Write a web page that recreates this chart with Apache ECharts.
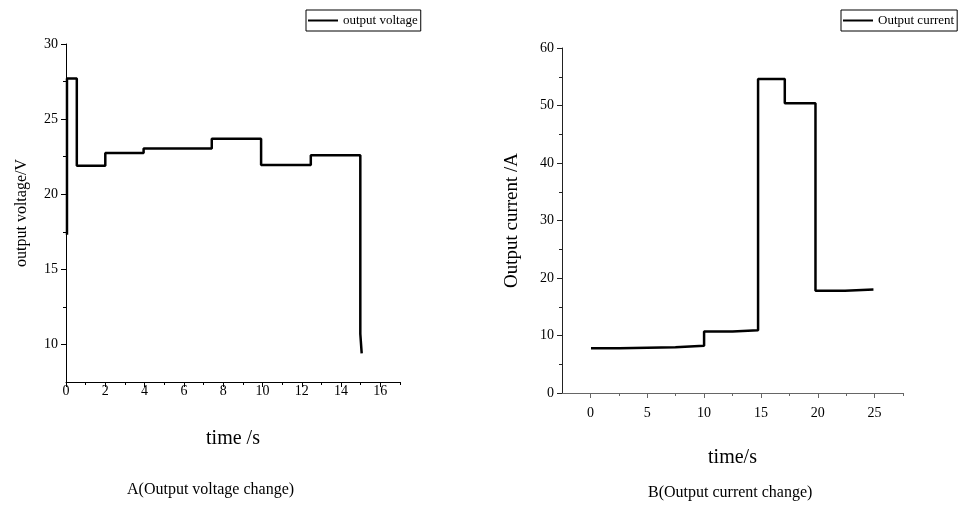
<!DOCTYPE html>
<html>
<head>
<meta charset="utf-8">
<script src="https://cdn.jsdelivr.net/npm/echarts@6/dist/echarts.min.js"></script>
<style>
html, body { margin: 0; padding: 0; background: #fff; }
#main { width: 961px; height: 515px; }
</style>
</head>
<body>
<div id="main"></div>
<script>
var dom = document.getElementById('main');
var myChart = echarts.init(dom);

// A: output voltage (step points, value held until the next time)
var voltTime = [0.05, 0.05, 0.55, 2.0, 3.95, 7.42, 9.93, 12.46, 14.98, 15.05];
var voltValue = [17.3, 27.7, 21.9, 22.75, 23.05, 23.7, 21.95, 22.6, 10.7, 9.4];

// B: output current
var currTime = [0.05, 2.55, 7.48, 10.0, 12.5, 14.75, 14.75, 17.1, 19.8, 22.4, 24.9];
var currValue = [7.8, 7.95, 8.2, 10.7, 10.9, 50.2, 54.6, 50.4, 17.8, 18.0, 18.0];

// ticks
var voltXMajor = [0, 2, 4, 6, 8, 10, 12, 14, 16];
var voltXMinor = [1, 3, 5, 7, 9, 11, 13, 15, 17];
var voltYMajor = [10, 15, 20, 25, 30];
var voltYMinor = [12.5, 17.5, 22.5, 27.5];
var currXMajor = [0, 5, 10, 15, 20, 25];
var currXMinor = [2.5, 7.5, 12.5, 17.5, 22.5, 27.5];
var currYMajor = [0, 10, 20, 30, 40, 50, 60];
var currYMinor = [5, 15, 25, 35, 45, 55];

var serif = 'Liberation Serif';

function pairs(xs, ys) {
    return xs.map(function (x, i) { return [x, ys[i]]; });
}

function mainAxis(grid, pos, min, max, major, color, extra) {
    var ax = {
        type: 'value',
        gridIndex: grid,
        position: pos,
        min: min,
        max: max,
        splitLine: { show: false },
        axisLine: { show: true, onZero: false, lineStyle: { color: color, width: 1 } },
        axisTick: { show: true, customValues: major, length: 5, lineStyle: { color: color } },
        axisLabel: { customValues: major, color: '#000', fontFamily: serif, fontSize: 14 },
        nameLocation: 'middle',
        nameTextStyle: { color: '#000', fontFamily: serif }
    };
    for (var k in extra) {
        if (k === 'axisLabel' || k === 'nameTextStyle') {
            Object.assign(ax[k], extra[k]);
        } else {
            ax[k] = extra[k];
        }
    }
    return ax;
}

function minorAxis(grid, pos, min, max, minor, color) {
    return {
        type: 'value',
        gridIndex: grid,
        position: pos,
        offset: 0,
        min: min,
        max: max,
        splitLine: { show: false },
        axisLine: { show: false, onZero: false },
        axisTick: { show: true, customValues: minor, length: 3, lineStyle: { color: color } },
        axisLabel: { show: false }
    };
}

var option = {
    animation: false,
    backgroundColor: '#fff',
    grid: [
        { left: 66, top: 44, width: 334, height: 338 },
        { left: 562, top: 48, width: 341, height: 345 }
    ],
    legend: [
        {
            data: ['output voltage'],
            left: 306, top: 10,
            borderColor: '#000', borderWidth: 1,
            padding: [4, 3, 4, 2],
            icon: 'rect', itemWidth: 30, itemHeight: 2,
            textStyle: { color: '#000', fontFamily: serif, fontSize: 13 }
        },
        {
            data: ['Output current'],
            left: 841, top: 10,
            borderColor: '#000', borderWidth: 1,
            padding: [4, 3, 4, 2],
            icon: 'rect', itemWidth: 30, itemHeight: 2,
            textStyle: { color: '#000', fontFamily: serif, fontSize: 13 }
        }
    ],
    xAxis: [
        mainAxis(0, 'bottom', 0, 17, voltXMajor, '#000', {
            name: 'time /s', nameGap: 47,
            nameTextStyle: { fontSize: 20 },
            axisLabel: { margin: 2 }
        }),
        mainAxis(1, 'bottom', -2.5, 27.5, currXMajor, '#666', {
            name: 'time/s', nameGap: 55,
            nameTextStyle: { fontSize: 20 },
            axisLabel: { margin: 13 }
        }),
        minorAxis(0, 'bottom', 0, 17, voltXMinor, '#000'),
        minorAxis(1, 'bottom', -2.5, 27.5, currXMinor, '#666')
    ],
    yAxis: [
        mainAxis(0, 'left', 7.5, 30, voltYMajor, '#000', {
            name: 'output voltage/V', nameGap: 36,
            nameTextStyle: { fontSize: 16 },
            axisLabel: { margin: 8 }
        }),
        mainAxis(1, 'left', 0, 60, currYMajor, '#222', {
            name: 'Output current /A', nameGap: 40,
            nameTextStyle: { fontSize: 19 },
            axisLabel: { margin: 8 }
        }),
        minorAxis(0, 'left', 7.5, 30, voltYMinor, '#000'),
        minorAxis(1, 'left', 0, 60, currYMinor, '#222')
    ],
    series: [
        {
            name: 'output voltage',
            type: 'line',
            xAxisIndex: 0, yAxisIndex: 0,
            step: 'end',
            symbol: 'none',
            data: pairs(voltTime, voltValue),
            itemStyle: { color: '#000' },
            lineStyle: { color: '#000', width: 2.5 }
        },
        {
            name: 'Output current',
            type: 'line',
            xAxisIndex: 1, yAxisIndex: 1,
            step: 'end',
            symbol: 'none',
            data: pairs(currTime, currValue),
            itemStyle: { color: '#000' },
            lineStyle: { color: '#000', width: 2.5 }
        }
    ],
    graphic: [
        {
            type: 'text', left: 127, top: 482,
            style: { text: 'A(Output voltage change)', fill: '#000', font: '16px "Liberation Serif"' }
        },
        {
            type: 'text', left: 648, top: 485,
            style: { text: 'B(Output current change)', fill: '#000', font: '16px "Liberation Serif"' }
        }
    ]
};

myChart.setOption(option, true);
</script>
</body>
</html>
